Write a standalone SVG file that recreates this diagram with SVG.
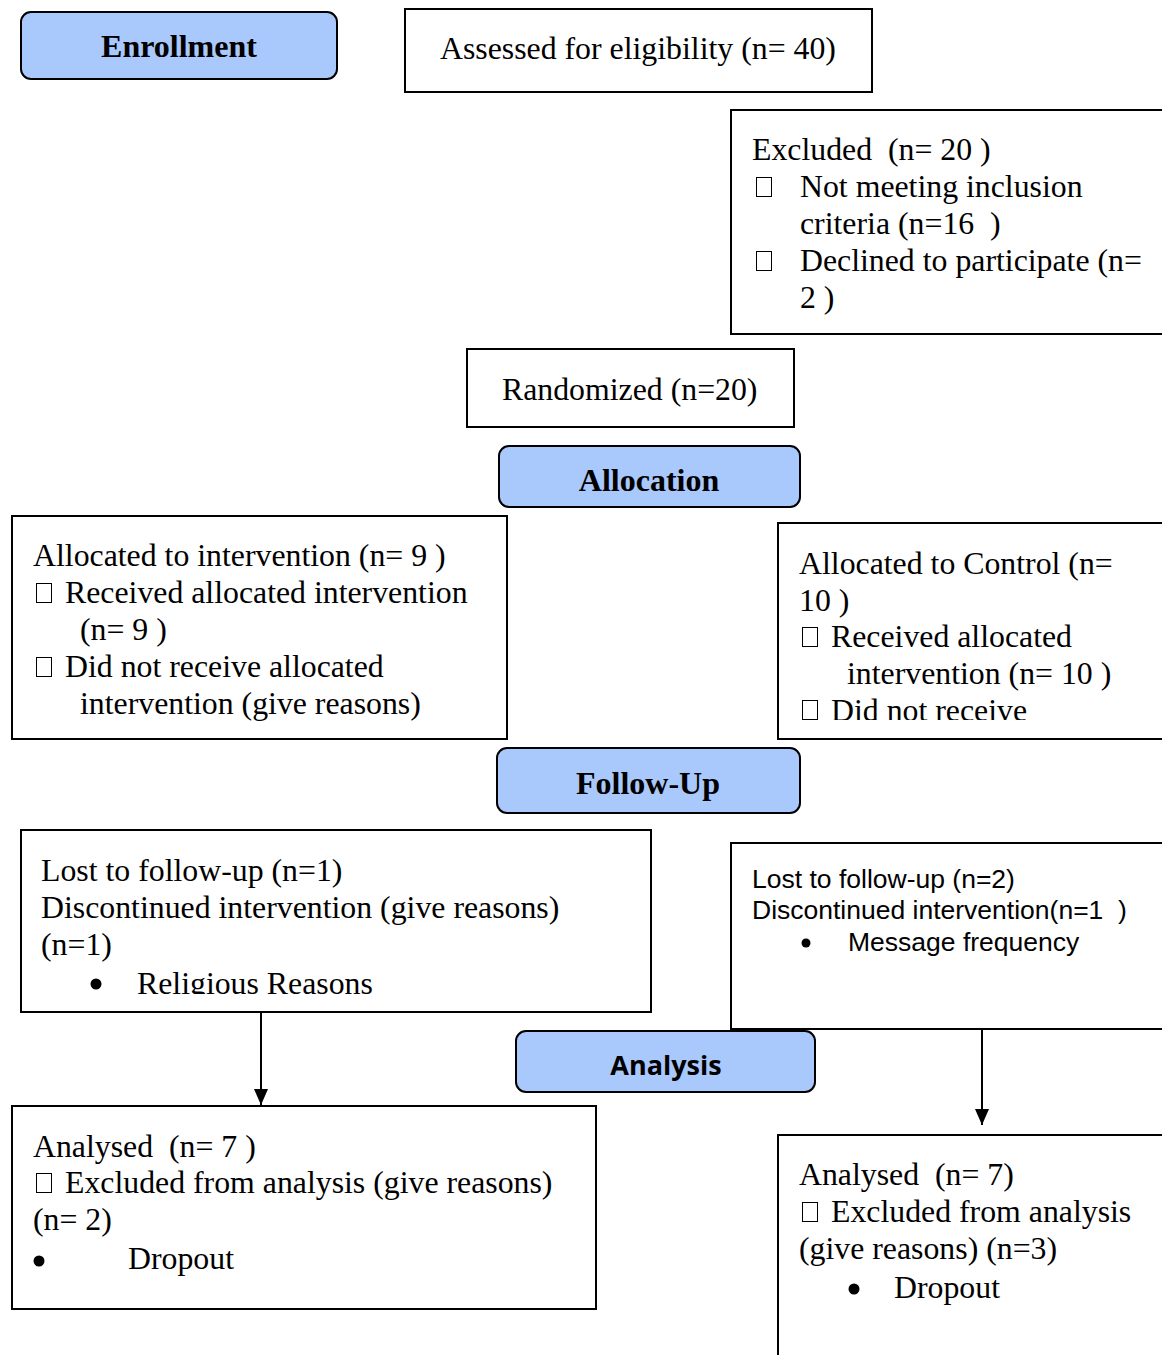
<svg xmlns="http://www.w3.org/2000/svg" width="1162" height="1355" viewBox="0 0 1162 1355">
<style>
text{white-space:pre}
.box{fill:#fff;stroke:#000;stroke-width:2}
.hdr{fill:#a9c8fb;stroke:#000;stroke-width:2}
.t{font-family:"Liberation Serif","Times New Roman",serif;font-size:31.8px;fill:#000}
.s{font-family:"Liberation Sans",Arial,sans-serif;font-size:26.5px;fill:#000}
.hb{font-family:"Liberation Serif","Times New Roman",serif;font-size:32px;font-weight:bold;fill:#000}
.hs{font-family:"Open Sans","Noto Sans",sans-serif;font-size:27px;font-weight:bold;fill:#000}
.sq{fill:none;stroke:#000;stroke-width:1}
.ln{stroke:#000;stroke-width:2;fill:none}
</style>
<defs>
<marker id="arr" markerWidth="16" markerHeight="14" refX="16" refY="7" orient="auto" markerUnits="userSpaceOnUse" viewBox="0 0 16 14">
<path d="M0,0 L16,7 L0,14 Z" fill="#000"/>
</marker>
<clipPath id="clipCtrl"><rect x="778" y="523" width="384" height="197"/></clipPath>
<clipPath id="clipLost"><rect x="21" y="830" width="630" height="164"/></clipPath>
</defs>

<g id="enrollment">
<rect class="hdr" x="21" y="12" width="316" height="67" rx="10"/>
<text class="hb" x="179" y="57" text-anchor="middle">Enrollment</text>
</g>

<g id="assessed">
<rect class="box" x="405" y="9" width="467" height="83"/>
<text class="t" x="440" y="59">Assessed for eligibility (n= 40)</text>
</g>

<g id="excluded">
<rect class="box" x="731" y="110" width="440" height="224"/>
<text class="t" x="752" y="160">Excluded  (n= 20 )</text>
<rect class="sq" x="756.500" y="177.500" width="15" height="19"/>
<text class="t" x="800" y="197">Not meeting inclusion</text>
<text class="t" x="800" y="234">criteria (n=16  )</text>
<rect class="sq" x="756.500" y="251.500" width="15" height="19"/>
<text class="t" x="800" y="271">Declined to participate (n=</text>
<text class="t" x="800" y="308">2 )</text>
</g>

<g id="randomized">
<rect class="box" x="467" y="349" width="327" height="78"/>
<text class="t" x="502" y="400">Randomized (n=20)</text>
</g>

<g id="allocation">
<rect class="hdr" x="499" y="446" width="301" height="61" rx="10"/>
<text class="hb" x="649" y="491" text-anchor="middle">Allocation</text>
</g>

<g id="alloc-intervention">
<rect class="box" x="12" y="516" width="495" height="223"/>
<text class="t" x="33" y="566">Allocated to intervention (n= 9 )</text>
<rect class="sq" x="36.500" y="583.500" width="15" height="19"/>
<text class="t" x="65" y="603">Received allocated intervention</text>
<text class="t" x="80" y="640">(n= 9 )</text>
<rect class="sq" x="36.500" y="657.500" width="15" height="19"/>
<text class="t" x="65" y="677">Did not receive allocated</text>
<text class="t" x="80" y="714">intervention (give reasons)</text>
</g>

<g id="alloc-control">
<rect class="box" x="778" y="523" width="394" height="216"/>
<text class="t" x="799" y="574">Allocated to Control (n=</text>
<text class="t" x="799" y="611">10 )</text>
<rect class="sq" x="802.500" y="627.500" width="15" height="19"/>
<text class="t" x="831" y="647">Received allocated</text>
<text class="t" x="847" y="684">intervention (n= 10 )</text>
<g clip-path="url(#clipCtrl)">
<rect class="sq" x="802.500" y="700.500" width="15" height="19"/>
<text class="t" x="831" y="721">Did not receive</text>
</g>
</g>

<g id="followup">
<rect class="hdr" x="497" y="748" width="303" height="65" rx="10"/>
<text class="hb" x="648" y="794" text-anchor="middle">Follow-Up</text>
</g>

<g id="lost-intervention">
<rect class="box" x="21" y="830" width="630" height="182"/>
<text class="t" x="41" y="881">Lost to follow-up (n=1)</text>
<text class="t" x="41" y="918">Discontinued intervention (give reasons)</text>
<text class="t" x="41" y="955">(n=1)</text>
<g clip-path="url(#clipLost)">
<circle cx="96" cy="984" r="5.500" fill="#000"/>
<text class="t" x="137" y="994">Religious Reasons</text>
</g>
</g>

<g id="lost-control">
<rect class="box" x="731" y="843" width="440" height="186"/>
<text class="s" x="752" y="888">Lost to follow-up (n=2)</text>
<text class="s" x="752" y="919">Discontinued intervention(n=1  )</text>
<circle cx="806" cy="943" r="4.500" fill="#000"/>
<text class="s" x="848" y="951">Message frequency</text>
</g>

<g id="analysis">
<rect class="hdr" x="516" y="1031" width="299" height="61" rx="10"/>
<text class="hs" x="666" y="1075" text-anchor="middle">Analysis</text>
</g>

<g id="analysed-intervention">
<rect class="box" x="12" y="1106" width="584" height="203"/>
<text class="t" x="33" y="1157">Analysed  (n= 7 )</text>
<rect class="sq" x="36.500" y="1173.500" width="15" height="19"/>
<text class="t" x="65" y="1193">Excluded from analysis (give reasons)</text>
<text class="t" x="33" y="1230">(n= 2)</text>
<circle cx="39" cy="1261" r="5.500" fill="#000"/>
<text class="t" x="128" y="1269">Dropout</text>
</g>

<g id="analysed-control">
<rect class="box" x="778" y="1135" width="394" height="240"/>
<text class="t" x="799" y="1185">Analysed  (n= 7)</text>
<rect class="sq" x="802.500" y="1202.500" width="15" height="19"/>
<text class="t" x="831" y="1222">Excluded from analysis</text>
<text class="t" x="799" y="1259">(give reasons) (n=3)</text>
<circle cx="854" cy="1289" r="5.500" fill="#000"/>
<text class="t" x="894" y="1298">Dropout</text>
</g>

<g id="connectors">
<line class="ln" x1="261" y1="1012" x2="261" y2="1105" marker-end="url(#arr)"/>
<line class="ln" x1="982" y1="1029" x2="982" y2="1125" marker-end="url(#arr)"/>
</g>
</svg>
